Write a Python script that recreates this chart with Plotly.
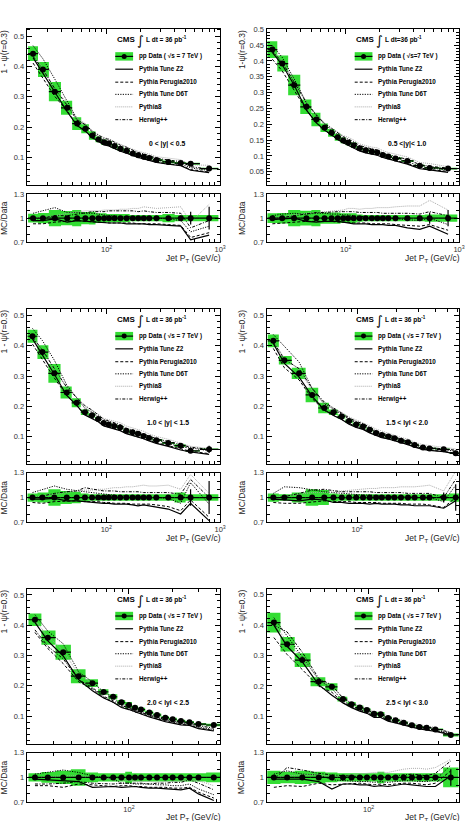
import numpy as np
import plotly.graph_objects as go

# ---------------- data ----------------
# Panel 1 : 0 < |y| < 0.5
pt_1 = [22.5, 27.5, 35, 45, 55, 65, 75, 85, 95, 105, 117.5, 132.5, 150, 170, 190, 212.5, 237.5, 275, 350, 450, 550, 800]
data_1 = [0.442, 0.390, 0.317, 0.264, 0.212, 0.195, 0.173, 0.160, 0.151, 0.147, 0.138, 0.129, 0.123, 0.114, 0.108, 0.103, 0.099, 0.092, 0.086, 0.082, 0.080, 0.064]
syst_1 = [0.055, 0.064, 0.10, 0.087, 0.10, 0.075, 0.08, 0.06, 0.06, 0.05, 0.05, 0.05, 0.05, 0.04, 0.04, 0.04, 0.04, 0.04, 0.05, 0.04, 0.04, 0.04]
stat_1 = [0.005, 0.005, 0.005, 0.005, 0.005, 0.005, 0.005, 0.005, 0.005, 0.005, 0.006, 0.006, 0.007, 0.008, 0.01, 0.01, 0.012, 0.015, 0.02, 0.03, 0.08, 0.14]
z2_1 = [0.97, 0.97, 0.99, 0.95, 0.97, 0.96, 0.96, 0.95, 0.94, 0.94, 0.94, 0.94, 0.93, 0.93, 0.93, 0.93, 0.92, 0.92, 0.91, 0.90, 0.73, 0.79]
perugia_1 = [0.93, 0.93, 0.95, 0.96, 0.97, 0.96, 0.95, 0.95, 0.95, 0.94, 0.94, 0.94, 0.94, 0.94, 0.93, 0.93, 0.93, 0.93, 0.92, 0.91, 0.76, 0.82]
d6t_1 = [1.06, 1.09, 1.13, 1.07, 1.07, 1.06, 1.06, 1.05, 1.04, 1.03, 1.03, 1.02, 1.02, 1.02, 1.01, 1.01, 1.00, 1.00, 0.99, 0.97, 0.83, 0.90]
py8_1 = [1.00, 1.01, 1.03, 1.06, 1.08, 1.09, 1.09, 1.09, 1.10, 1.10, 1.10, 1.11, 1.11, 1.12, 1.12, 1.14, 1.13, 1.12, 1.13, 1.14, 0.95, 1.17]
herwig_1 = [0.98, 1.00, 1.03, 1.03, 1.05, 1.07, 1.08, 1.08, 1.08, 1.09, 1.09, 1.09, 1.09, 1.09, 1.08, 1.09, 1.08, 1.07, 1.07, 1.06, 0.88, 0.97]

# Panel 2 : 0.5 < |y| < 1.0
pt_2 = [22.5, 27.5, 35, 45, 55, 65, 75, 85, 95, 105, 117.5, 132.5, 150, 170, 190, 212.5, 237.5, 275, 350, 450, 550, 800]
data_2 = [0.436, 0.392, 0.324, 0.255, 0.215, 0.189, 0.173, 0.159, 0.149, 0.142, 0.134, 0.124, 0.118, 0.114, 0.111, 0.103, 0.098, 0.092, 0.084, 0.069, 0.062, 0.060]
syst_2 = [0.06, 0.065, 0.10, 0.09, 0.10, 0.07, 0.07, 0.07, 0.06, 0.06, 0.06, 0.045, 0.04, 0.04, 0.04, 0.04, 0.04, 0.04, 0.04, 0.04, 0.045, 0.045]
stat_2 = [0.005, 0.005, 0.005, 0.005, 0.005, 0.005, 0.005, 0.005, 0.005, 0.005, 0.006, 0.006, 0.007, 0.008, 0.01, 0.01, 0.012, 0.015, 0.02, 0.03, 0.07, 0.10]
z2_2 = [0.98, 0.99, 1.00, 0.96, 0.95, 0.96, 0.96, 0.96, 0.95, 0.94, 0.93, 0.93, 0.93, 0.92, 0.92, 0.92, 0.91, 0.91, 0.88, 0.86, 0.90, 0.80]
perugia_2 = [0.93, 0.94, 0.95, 0.96, 0.96, 0.96, 0.96, 0.95, 0.95, 0.95, 0.94, 0.94, 0.94, 0.93, 0.93, 0.93, 0.93, 0.92, 0.91, 0.90, 0.92, 0.85]
d6t_2 = [1.03, 1.05, 1.06, 1.05, 1.06, 1.06, 1.05, 1.05, 1.04, 1.04, 1.03, 1.02, 1.02, 1.01, 1.01, 1.00, 1.00, 0.99, 0.98, 0.97, 1.00, 0.92]
py8_2 = [1.00, 1.02, 1.04, 1.06, 1.07, 1.08, 1.09, 1.10, 1.10, 1.12, 1.12, 1.11, 1.12, 1.12, 1.13, 1.13, 1.13, 1.14, 1.15, 1.15, 1.22, 1.10]
herwig_2 = [0.99, 1.01, 1.03, 1.05, 1.07, 1.07, 1.08, 1.08, 1.08, 1.08, 1.08, 1.07, 1.07, 1.07, 1.07, 1.06, 1.06, 1.06, 1.06, 1.05, 1.08, 1.03]

# Panel 3 : 1.0 < |y| < 1.5
pt_3 = [22.5, 27.5, 35, 45, 55, 65, 75, 85, 95, 105, 117.5, 132.5, 150, 170, 190, 212.5, 237.5, 275, 350, 450, 550, 800]
data_3 = [0.431, 0.379, 0.309, 0.246, 0.212, 0.181, 0.171, 0.159, 0.146, 0.141, 0.136, 0.131, 0.120, 0.115, 0.110, 0.103, 0.096, 0.089, 0.080, 0.071, 0.054, 0.059]
syst_3 = [0.05, 0.06, 0.10, 0.08, 0.07, 0.05, 0.04, 0.04, 0.04, 0.04, 0.04, 0.04, 0.04, 0.04, 0.04, 0.04, 0.04, 0.04, 0.04, 0.06, 0.04, 0.04]
stat_3 = [0.005, 0.005, 0.005, 0.005, 0.005, 0.005, 0.005, 0.005, 0.005, 0.005, 0.006, 0.006, 0.007, 0.008, 0.01, 0.01, 0.012, 0.015, 0.02, 0.03, 0.10, 0.20]
z2_3 = [0.98, 0.98, 0.99, 0.96, 0.96, 0.95, 0.94, 0.94, 0.93, 0.93, 0.92, 0.92, 0.92, 0.91, 0.90, 0.91, 0.90, 0.88, 0.86, 0.80, 0.93, 0.72]
perugia_3 = [0.94, 0.93, 0.95, 0.96, 0.96, 0.95, 0.95, 0.95, 0.94, 0.94, 0.93, 0.93, 0.93, 0.92, 0.92, 0.92, 0.92, 0.91, 0.89, 0.84, 0.97, 0.76]
d6t_3 = [1.06, 1.10, 1.14, 1.10, 1.08, 1.07, 1.06, 1.05, 1.04, 1.03, 1.03, 1.02, 1.02, 1.02, 1.01, 1.01, 1.00, 1.00, 0.99, 0.93, 1.18, 0.92]
py8_3 = [1.00, 1.02, 1.04, 1.06, 1.08, 1.09, 1.09, 1.10, 1.10, 1.11, 1.12, 1.12, 1.13, 1.13, 1.14, 1.15, 1.14, 1.14, 1.15, 1.10, 1.28, 1.05]
herwig_3 = [0.99, 1.02, 1.05, 1.07, 1.08, 1.12, 1.10, 1.09, 1.08, 1.08, 1.08, 1.07, 1.07, 1.07, 1.07, 1.06, 1.06, 1.06, 1.06, 1.04, 1.22, 1.00]

# Panel 4 : 1.5 < |y| < 2.0
pt_4 = [22.5, 27.4, 35.6, 44.9, 55.7, 65.6, 76, 86.5, 98.3, 111, 125, 140, 155, 174, 194, 218, 247, 278, 322, 362, 466, 577]
data_4 = [0.416, 0.352, 0.309, 0.238, 0.195, 0.181, 0.167, 0.152, 0.141, 0.134, 0.123, 0.113, 0.106, 0.101, 0.095, 0.087, 0.082, 0.073, 0.065, 0.062, 0.059, 0.046]
syst_4 = [0.05, 0.04, 0.06, 0.10, 0.09, 0.05, 0.04, 0.04, 0.04, 0.04, 0.04, 0.04, 0.04, 0.04, 0.04, 0.04, 0.04, 0.04, 0.04, 0.04, 0.04, 0.05]
stat_4 = [0.005, 0.005, 0.005, 0.005, 0.005, 0.005, 0.005, 0.005, 0.005, 0.005, 0.006, 0.006, 0.007, 0.008, 0.01, 0.01, 0.012, 0.015, 0.02, 0.03, 0.06, 0.16]
z2_4 = [0.98, 0.97, 0.96, 0.98, 0.97, 0.94, 0.94, 0.93, 0.93, 0.93, 0.92, 0.93, 0.92, 0.92, 0.92, 0.91, 0.91, 0.90, 0.90, 0.90, 0.87, 0.96]
perugia_4 = [0.94, 0.93, 0.93, 0.95, 0.96, 0.95, 0.95, 0.95, 0.94, 0.94, 0.94, 0.94, 0.93, 0.93, 0.93, 0.93, 0.92, 0.92, 0.92, 0.91, 0.88, 1.00]
d6t_4 = [1.05, 1.13, 1.12, 1.09, 1.07, 1.06, 1.05, 1.04, 1.04, 1.03, 1.03, 1.02, 1.02, 1.02, 1.01, 1.01, 1.01, 1.00, 1.00, 1.00, 0.95, 1.15]
py8_4 = [1.00, 1.02, 1.04, 1.06, 1.06, 1.07, 1.08, 1.09, 1.10, 1.10, 1.11, 1.11, 1.12, 1.12, 1.12, 1.13, 1.13, 1.13, 1.14, 1.15, 1.08, 1.32]
herwig_4 = [0.99, 1.01, 1.05, 1.09, 1.10, 1.08, 1.07, 1.07, 1.07, 1.07, 1.07, 1.06, 1.06, 1.06, 1.06, 1.06, 1.05, 1.05, 1.05, 1.05, 1.00, 1.22]

# Panel 5 : 2.0 < |y| < 2.5
pt_5 = [22.5, 27.6, 35.2, 45, 56, 66.9, 77.8, 88.7, 100, 110, 121, 138, 156, 178, 200, 228, 261, 301, 384]
data_5 = [0.418, 0.359, 0.311, 0.232, 0.209, 0.180, 0.164, 0.146, 0.137, 0.128, 0.122, 0.112, 0.104, 0.095, 0.090, 0.084, 0.080, 0.074, 0.071]
syst_5 = [0.05, 0.065, 0.08, 0.10, 0.06, 0.05, 0.05, 0.05, 0.07, 0.05, 0.05, 0.05, 0.05, 0.05, 0.05, 0.05, 0.05, 0.05, 0.06]
stat_5 = [0.005, 0.005, 0.005, 0.005, 0.005, 0.005, 0.005, 0.005, 0.005, 0.006, 0.006, 0.007, 0.008, 0.01, 0.01, 0.012, 0.015, 0.02, 0.03]
z2_5 = [0.98, 0.97, 0.96, 0.95, 0.88, 0.89, 0.89, 0.88, 0.89, 0.89, 0.88, 0.87, 0.87, 0.86, 0.86, 0.85, 0.87, 0.80, 0.72]
perugia_5 = [0.90, 0.90, 0.88, 0.92, 0.91, 0.90, 0.89, 0.90, 0.90, 0.89, 0.89, 0.88, 0.88, 0.88, 0.87, 0.87, 0.88, 0.82, 0.75]
d6t_5 = [1.04, 1.06, 1.09, 1.06, 1.02, 1.00, 0.98, 0.93, 0.93, 0.92, 0.92, 0.92, 0.91, 0.91, 0.90, 0.90, 0.92, 0.86, 0.79]
py8_5 = [1.00, 1.01, 1.02, 1.02, 1.00, 0.99, 0.98, 0.97, 0.96, 0.95, 0.95, 0.95, 0.94, 0.95, 0.95, 0.96, 0.97, 0.96, 0.90]
herwig_5 = [0.92, 0.92, 0.93, 0.95, 0.93, 0.92, 0.92, 0.93, 0.93, 0.93, 0.93, 0.92, 0.93, 0.93, 0.94, 0.94, 0.97, 0.93, 0.85]

# Panel 6 : 2.5 < |y| < 3.0
pt_6 = [22.4, 27.6, 35.1, 45.5, 56, 66.7, 76.4, 86.9, 97.4, 109, 121, 136, 153, 174, 198, 223, 250, 287, 366]
data_6 = [0.408, 0.337, 0.285, 0.214, 0.197, 0.157, 0.140, 0.129, 0.121, 0.109, 0.107, 0.095, 0.087, 0.079, 0.071, 0.065, 0.063, 0.057, 0.039]
syst_6 = [0.08, 0.07, 0.08, 0.07, 0.06, 0.05, 0.05, 0.05, 0.05, 0.05, 0.07, 0.05, 0.05, 0.05, 0.05, 0.05, 0.05, 0.05, 0.12]
stat_6 = [0.005, 0.005, 0.005, 0.005, 0.005, 0.005, 0.005, 0.005, 0.005, 0.006, 0.006, 0.007, 0.008, 0.01, 0.01, 0.012, 0.015, 0.03, 0.10]
z2_6 = [0.98, 0.98, 0.98, 0.95, 0.86, 0.92, 0.92, 0.91, 0.91, 0.89, 0.90, 0.89, 0.90, 0.92, 0.91, 0.90, 0.89, 0.89, 1.02]
perugia_6 = [0.88, 0.90, 0.89, 0.93, 0.91, 0.92, 0.93, 0.93, 0.92, 0.91, 0.92, 0.91, 0.92, 0.93, 0.93, 0.92, 0.91, 0.93, 1.08]
d6t_6 = [1.04, 1.08, 1.04, 1.03, 0.97, 0.96, 0.96, 0.95, 0.95, 0.94, 0.95, 0.94, 0.95, 0.96, 0.96, 0.95, 0.95, 0.97, 1.15]
py8_6 = [1.00, 1.02, 1.03, 1.03, 1.01, 1.02, 1.03, 1.04, 1.05, 1.06, 1.06, 1.06, 1.08, 1.10, 1.11, 1.11, 1.10, 1.12, 1.22]
herwig_6 = [0.98, 1.12, 1.09, 1.05, 1.03, 1.02, 1.02, 1.01, 1.01, 1.00, 1.01, 1.00, 1.02, 1.03, 1.04, 1.03, 1.02, 1.05, 1.20]

region_labels = ["0 < |y| < 0.5", "0.5 <|y|< 1.0", "1.0 < |y| < 1.5",
                 "1.5 < lyl < 2.0", "2.0 < lyl < 2.5", "2.5 < lyl < 3.0"]
legend_labels = ["Pythia Tune Z2", "Pythia Perugia2010", "Pythia Tune D6T", "Pythia8", "Herwig++"]

# ---------------- styling / layout ----------------
W, H = 469, 821
GREEN = "#33dd33"
FONT = "Liberation Sans"
col_px = [(27, 223), (270, 465)]
main_px = [(25, 183), (308, 465), (591, 748)]
ratio_px = [(192, 241), (474, 524), (757, 807)]

panels = [
    dict(pt=pt_1, d=data_1, sy=syst_1, st=stat_1, mc=[z2_1, perugia_1, d6t_1, py8_1, herwig_1],
         xr=[1.296, 3.0], yr=[0.01, 0.524], dt=0.1, mdt=0.02, yt="1 - ψ(r=0.3)", sp=True),
    dict(pt=pt_2, d=data_2, sy=syst_2, st=stat_2, mc=[z2_2, perugia_2, d6t_2, py8_2, herwig_2],
         xr=[1.301, 3.0], yr=[0.008, 0.502], dt=0.05, mdt=0.01, yt="1-ψ(r=0.3)", sp=False),
    dict(pt=pt_3, d=data_3, sy=syst_3, st=stat_3, mc=[z2_3, perugia_3, d6t_3, py8_3, herwig_3],
         xr=[1.301, 3.0], yr=[0.011, 0.522], dt=0.1, mdt=0.02, yt="1 - ψ(r=0.3)", sp=True),
    dict(pt=pt_4, d=data_4, sy=syst_4, st=stat_4, mc=[z2_4, perugia_4, d6t_4, py8_4, herwig_4],
         xr=[1.30, 2.787], yr=[0.011, 0.522], dt=0.1, mdt=0.02, yt="1 - ψ(r=0.3)", sp=True),
    dict(pt=pt_5, d=data_5, sy=syst_5, st=stat_5, mc=[z2_5, perugia_5, d6t_5, py8_5, herwig_5],
         xr=[1.295, 2.628], yr=[0.009, 0.521], dt=0.1, mdt=0.02, yt="1 - ψ(r=0.3)", sp=True),
    dict(pt=pt_6, d=data_6, sy=syst_6, st=stat_6, mc=[z2_6, perugia_6, d6t_6, py8_6, herwig_6],
         xr=[1.30, 2.62], yr=[0.01, 0.52], dt=0.1, mdt=0.02, yt="1 - ψ(r=0.3)", sp=True),
]

mc_styles = [
    dict(color="black", width=1.2, dash="solid"),
    dict(color="black", width=1.0, dash="3px,2px"),
    dict(color="black", width=1.0, dash="1.2px,1.3px"),
    dict(color="#a0a0a0", width=0.9, dash="1px,1px"),
    dict(color="black", width=1.0, dash="3px,1.5px,1px,1.5px"),
]


def sfx(i):
    return "" if i == 1 else str(i)


def bin_edges(c):
    lc = np.log10(np.asarray(c, float))
    mids = (lc[1:] + lc[:-1]) / 2
    lo = np.concatenate([[2 * lc[0] - mids[0]], mids])
    hi = np.concatenate([mids, [2 * lc[-1] - mids[-1]]])
    return 10 ** lo, 10 ** hi


def boxes(lo, hi, centre, rel):
    xs, ys = [], []
    for a, b, c, r in zip(lo, hi, centre, rel):
        y0, y1 = c * (1 - r), c * (1 + r)
        xs += [a, b, b, a, a, None]
        ys += [y0, y0, y1, y1, y0, None]
    return xs, ys


fig = go.Figure()
layout = dict(width=W, height=H, margin=dict(l=0, r=0, t=0, b=0),
              paper_bgcolor="white", plot_bgcolor="white", showlegend=False)
annotations, shapes = [], []

tickfont = dict(family=FONT, size=7.5, color="#333")
minor_x = [20, 30, 40, 50, 60, 70, 80, 90, 200, 300, 400, 500, 600, 700, 800, 900]


def axis_base():
    return dict(showline=True, linecolor="black", linewidth=1, mirror="allticks",
                ticks="inside", ticklen=5, tickcolor="black", tickwidth=1,
                showgrid=False, zeroline=False, tickfont=tickfont)


for k, p in enumerate(panels):
    col, row = k % 2, k // 2
    mi, ri = sfx(2 * k + 1), sfx(2 * k + 2)
    xd = [col_px[col][0] / W, col_px[col][1] / W]
    mdom = [1 - main_px[row][1] / H, 1 - main_px[row][0] / H]
    rdom = [1 - ratio_px[row][1] / H, 1 - ratio_px[row][0] / H]

    xa = axis_base()
    xa.update(type="log", range=p["xr"], domain=xd, tickvals=[100, 1000],
              showticklabels=False, anchor=f"y{mi}",
              minor=dict(tickvals=minor_x, ticklen=3, ticks="inside", tickcolor="black"))
    layout[f"xaxis{mi}"] = xa
    ya = axis_base()
    ya.update(range=p["yr"], domain=mdom, dtick=p["dt"], tick0=0, anchor=f"x{mi}",
              minor=dict(dtick=p["mdt"], ticklen=3, ticks="inside", tickcolor="black"))
    layout[f"yaxis{mi}"] = ya

    xr_ = axis_base()
    xr_.update(type="log", range=p["xr"], domain=xd, tickvals=[100, 1000],
               ticktext=["10<sup>2</sup>", "10<sup>3</sup>"], anchor=f"y{ri}",
               minor=dict(tickvals=minor_x, ticklen=3, ticks="inside", tickcolor="black"))
    layout[f"xaxis{ri}"] = xr_
    yr_ = axis_base()
    yr_.update(range=[0.7, 1.3], domain=rdom, tickvals=[0.7, 1, 1.3],
               ticktext=["0.7", "1", "1.3"], anchor=f"x{ri}",
               minor=dict(tickvals=[0.8, 0.9, 1.1, 1.2], ticklen=3, ticks="inside", tickcolor="black"))
    layout[f"yaxis{ri}"] = yr_

    pt = np.asarray(p["pt"], float)
    d = np.asarray(p["d"], float)
    lo, hi = bin_edges(pt)
    ones = np.ones_like(d)

    # systematic boxes
    bx, by = boxes(lo, hi, d, p["sy"])
    fig.add_trace(go.Scatter(x=bx, y=by, fill="toself", fillcolor=GREEN, mode="lines",
                             line=dict(width=0, color=GREEN), xaxis=f"x{mi}", yaxis=f"y{mi}",
                             hoverinfo="skip"))
    rx, ry = boxes(lo, hi, ones, p["sy"])
    fig.add_trace(go.Scatter(x=rx, y=ry, fill="toself", fillcolor=GREEN, mode="lines",
                             line=dict(width=0, color=GREEN), xaxis=f"x{ri}", yaxis=f"y{ri}",
                             hoverinfo="skip"))

    # MC predictions
    for ratio, st in zip(p["mc"], mc_styles):
        r = np.asarray(ratio, float)
        fig.add_trace(go.Scatter(x=pt, y=d * r, mode="lines", line=st,
                                 xaxis=f"x{mi}", yaxis=f"y{mi}"))
        fig.add_trace(go.Scatter(x=pt, y=r, mode="lines", line=st,
                                 xaxis=f"x{ri}", yaxis=f"y{ri}"))

    # data points
    ex = dict(type="data", symmetric=False, array=hi - pt, arrayminus=pt - lo,
              thickness=1.2, width=0, color="black")
    st_arr = np.asarray(p["st"], float)
    fig.add_trace(go.Scatter(x=pt, y=d, mode="markers",
                             marker=dict(color="black", size=6),
                             error_x=ex,
                             error_y=dict(type="data", array=d * st_arr, thickness=1.2,
                                          width=0, color="black"),
                             xaxis=f"x{mi}", yaxis=f"y{mi}"))
    fig.add_trace(go.Scatter(x=pt, y=ones, mode="markers",
                             marker=dict(color="black", size=6),
                             error_x=ex,
                             error_y=dict(type="data", array=st_arr, thickness=1.2,
                                          width=0, color="black"),
                             xaxis=f"x{ri}", yaxis=f"y{ri}"))

    # ---------- titles ----------
    ytx = (4 if col == 0 else 245) / W
    annotations.append(dict(text=p["yt"], x=ytx, y=1 - (main_px[row][0] - 1) / H,
                            xref="paper", yref="paper", xanchor="center", yanchor="top",
                            textangle=-90, showarrow=False,
                            font=dict(family=FONT, size=8.5, color="#222")))
    annotations.append(dict(text="MC/Data", x=ytx, y=1 - (ratio_px[row][0] + ratio_px[row][1]) / 2 / H,
                            xref="paper", yref="paper", xanchor="center", yanchor="middle",
                            textangle=-90, showarrow=False,
                            font=dict(family=FONT, size=8.5, color="#222")))
    annotations.append(dict(text="Jet P<sub>T</sub> (GeV/c)", x=(col_px[col][1] + 3) / W,
                            y=1 - (ratio_px[row][1] + 16) / H,
                            xref="paper", yref="paper", xanchor="right", yanchor="middle",
                            showarrow=False, font=dict(family=FONT, size=8.5, color="#222")))

    # ---------- in-panel legend ----------
    xr_ref, yr_ref = f"x{mi} domain", f"y{mi} domain"
    sp = p["sp"]
    annotations.append(dict(text="<b>CMS</b>", x=0.455, y=0.93, xref=xr_ref, yref=yr_ref,
                            xanchor="left", yanchor="middle", showarrow=False,
                            font=dict(family=FONT, size=8, color="black")))
    annotations.append(dict(text="∫", x=0.56, y=0.925, xref=xr_ref, yref=yr_ref,
                            xanchor="left", yanchor="middle", showarrow=False,
                            font=dict(family="DejaVu Sans", size=13, color="black")))
    lumi = "<b>L dt = 36 pb<sup>-1</sup></b>" if sp else "<b>L dt=36 pb<sup>-1</sup></b>"
    annotations.append(dict(text=lumi, x=0.605, y=0.93, xref=xr_ref, yref=yr_ref,
                            xanchor="left", yanchor="middle", showarrow=False,
                            font=dict(family=FONT, size=6.5, color="black")))
    rows_y = [0.823, 0.741, 0.658, 0.58, 0.5, 0.418]
    dlabel = "<b>pp Data ( √s = 7 TeV )</b>" if sp else "<b>pp Data ( √s=7 TeV )</b>"
    labels = [dlabel] + [f"<b>{t}</b>" for t in legend_labels]
    for yy, lab in zip(rows_y, labels):
        annotations.append(dict(text=lab, x=0.57, y=yy, xref=xr_ref, yref=yr_ref,
                                xanchor="left", yanchor="middle", showarrow=False,
                                font=dict(family=FONT, size=6.3, color="black")))
    x0s, x1s = 0.458, 0.55
    shapes.append(dict(type="rect", xref=xr_ref, yref=yr_ref, x0=x0s, x1=x1s,
                       y0=rows_y[0] - 0.027, y1=rows_y[0] + 0.027,
                       fillcolor=GREEN, line=dict(width=0)))
    shapes.append(dict(type="line", xref=xr_ref, yref=yr_ref, x0=x0s, x1=x1s,
                       y0=rows_y[0], y1=rows_y[0], line=dict(color="black", width=1.2)))
    cx = (x0s + x1s) / 2
    shapes.append(dict(type="circle", xref=xr_ref, yref=yr_ref, x0=cx - 0.013, x1=cx + 0.013,
                       y0=rows_y[0] - 0.016, y1=rows_y[0] + 0.016,
                       fillcolor="black", line=dict(color="black", width=0)))
    for yy, st in zip(rows_y[1:], mc_styles):
        shapes.append(dict(type="line", xref=xr_ref, yref=yr_ref, x0=x0s, x1=x1s,
                           y0=yy, y1=yy, line=st))
    annotations.append(dict(text=f"<b>{region_labels[k]}</b>", x=0.73, y=0.265,
                            xref=xr_ref, yref=yr_ref, xanchor="center", yanchor="middle",
                            showarrow=False, font=dict(family=FONT, size=6.8, color="black")))

layout["annotations"] = annotations
layout["shapes"] = shapes
fig.update_layout(**layout)
fig.write_html("out.html")
